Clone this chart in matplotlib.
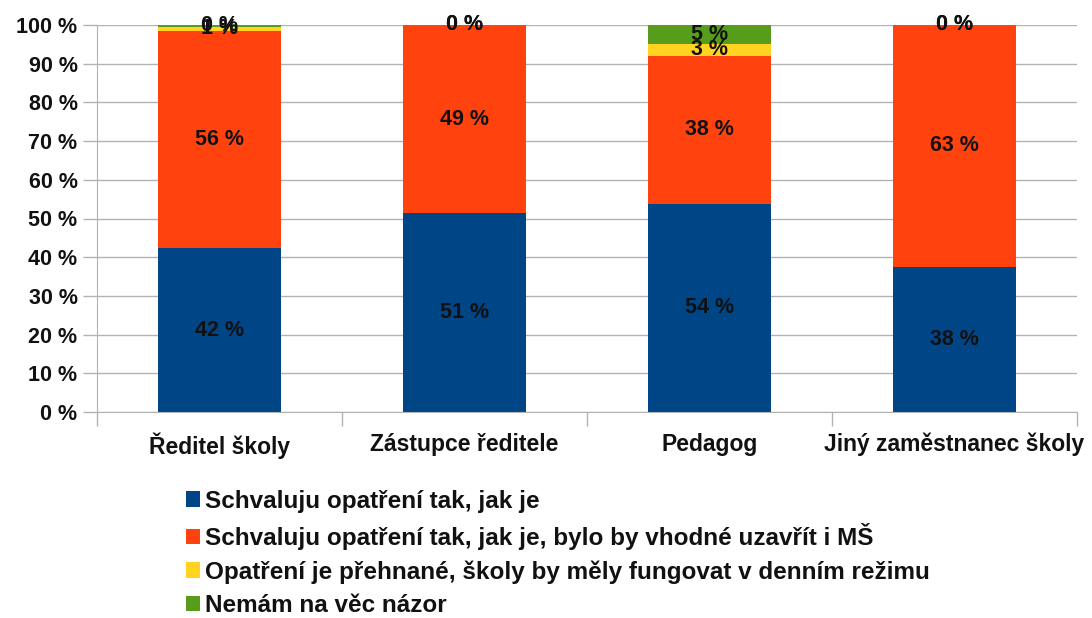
import matplotlib.pyplot as plt
import numpy as np
from matplotlib.ticker import MultipleLocator, FixedLocator

plt.rcParams['font.family'] = ['Liberation Sans', 'DejaVu Sans']

categories = ["Ředitel školy", "Zástupce ředitele", "Pedagog", "Jiný zaměstnanec školy"]
series_names = [
    "Schvaluju opatření tak, jak je",
    "Schvaluju opatření tak, jak je, bylo by vhodné uzavřít i MŠ",
    "Opatření je přehnané, školy by měly fungovat v denním režimu",
    "Nemám na věc názor",
]
approve = [42.3, 51.3, 53.8, 37.5]
approve_close_ms = [56.1, 48.7, 38.3, 62.51]
exaggerated = [1.2, 0.0, 2.9, 0.0]
no_opinion = [0.4, 0.0, 5.0, 0.0]
colors = ["#004586", "#ff420e", "#ffd320", "#579d1c"]

series = [approve, approve_close_ms, exaggerated, no_opinion]

fig = plt.figure(figsize=(10.92, 6.18), dpi=100)
ax = fig.add_axes([97 / 1092, 1 - 412 / 618, 980 / 1092, 387 / 618])

x = np.arange(len(categories))
bottom = np.zeros(len(categories))
for vals, name, col in zip(series, series_names, colors):
    vals = np.array(vals)
    ax.bar(x, vals, width=0.5, bottom=bottom, color=col, label=name, zorder=2)
    for xi, b, v in zip(x, bottom, vals):
        ax.text(xi, b + v / 2, f"{v:.0f} %", ha="center", va="center",
                fontsize=15.5, fontweight="bold", color="#111111", zorder=3)
    bottom += vals

ax.set_xlim(-0.5, len(categories) - 0.5)
ax.set_ylim(0, 100)
ax.yaxis.set_major_locator(MultipleLocator(10))
ax.set_yticklabels([f"{int(v)} %" for v in ax.get_yticks()])
ax.yaxis.grid(True, color="#b3b3b3", linewidth=1, zorder=0)

ax.set_xticks(x)
ax.set_xticklabels(categories)
ax.xaxis.set_minor_locator(FixedLocator(np.arange(len(categories) + 1) - 0.5))
ax.tick_params(axis="x", which="major", length=0, pad=15)
ax.tick_params(axis="x", which="minor", length=10, color="#b3b3b3", width=1)
ax.tick_params(axis="y", length=10, color="#b3b3b3", width=1, pad=4)
for lab in ax.get_yticklabels():
    lab.set_fontsize(15.5)
    lab.set_fontweight("bold")
    lab.set_color("#111111")
for lab in ax.get_xticklabels():
    lab.set_fontsize(16.5)
    lab.set_fontweight("bold")
    lab.set_color("#111111")

for s in ["top", "right"]:
    ax.spines[s].set_visible(False)
for s in ["left", "bottom"]:
    ax.spines[s].set_color("#b3b3b3")

leg = fig.legend(loc="upper left", bbox_to_anchor=(176 / 1092, 1 - 480 / 618),
                 frameon=False, handlelength=0.6, handleheight=0.6, handletextpad=0.2,
                 labelspacing=0.42, borderaxespad=0,
                 prop={"size": 17.5, "weight": "bold"})
for t in leg.get_texts():
    t.set_color("#111111")

fig.savefig("out.png", dpi=100)
